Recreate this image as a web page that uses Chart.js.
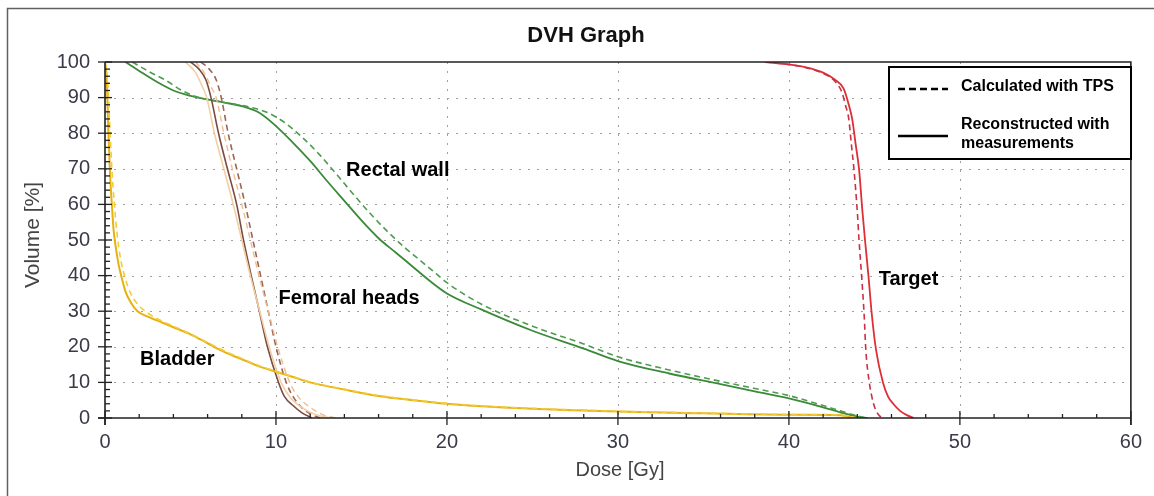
<!DOCTYPE html>
<html><head><meta charset="utf-8">
<script src="https://cdn.jsdelivr.net/npm/chart.js@4.4.0/dist/chart.umd.min.js"></script>
<style>html,body{margin:0;padding:0;background:#fff;}#wrap{width:1154px;height:496px;position:relative}</style>
</head><body><div id="wrap"><canvas id="c" width="1154" height="496"></canvas></div>
<script>
// ---- data ----
const xTickValues=[0,10,20,30,40,50,60];
const yTickValues=[0,10,20,30,40,50,60,70,80,90,100];

const bladderSolidDose=[0,0.1,0.2,0.3,0.4,0.5,0.6,0.8,1.0,1.2,1.5,1.9,2.5,3,4,5,6,7,8,9,10,11,12,14,16,18,20,22,25,28,30,35,40,43,43.5,44];
const bladderSolidVol =[100,95,80,68,60,53,49,43,39,35.5,32.5,30,28.5,27.5,25.5,23.5,21,18.5,16.5,14.5,13,11.5,10,8,6.2,5,4,3.3,2.6,2.1,1.8,1.3,0.9,0.8,0.3,0];
const bladderCalcDose=[0,0.15,0.3,0.4,0.55,0.7,0.9,1.2,1.5,2,2.5,3,4,5,6,7,8,9,10,11,12,14,16,18,20,22,25,28,30,35,40,43,43.5,44];
const bladderCalcVol =[100,95,80,70,60,52,45,39,35,31.5,29.5,28,25.8,23.6,21.2,18.8,16.7,14.7,13.1,11.6,10.1,8.1,6.3,5.1,4.1,3.4,2.7,2.2,1.9,1.4,1.0,0.9,0.4,0];

const rectalSolidDose=[1.2,2,3,4,5,6,7,8,9,10,11,12,13,14,15,16,17,18,19,20,22,25,28,30,33,36,38,40,42,43,44,44.6];
const rectalSolidVol =[100,97.5,94.5,92,90.5,89.5,88.6,87.6,85.8,82,77.3,72.2,66.5,61,55.5,50.5,46.5,42.5,38.5,35,30.5,24.5,19.5,16,12.5,9.5,7.5,5.5,3,1.6,0.4,0];
const rectalCalcDose=[1.6,2.5,3.5,4.5,5.5,6.5,7.5,8.5,9.5,10.5,11.5,12.5,13.5,14.5,15.5,16.5,17.5,18.5,19.5,20,22,25,28,30,33,36,38,40,42,43,44,44.5];
const rectalCalcVol =[100,97.5,95,92,90,89,88.2,87.3,85.8,83,79,74.2,68.7,63,57.5,52.5,48,44,40,38,32,25.8,20.8,17.2,13.5,10.3,8.3,6.3,3.5,2,0.6,0];

const femBrownSolidDose=[5.0,5.5,5.9,6.2,6.64,7.16,7.7,8.1,8.55,9.03,9.5,10.15,10.5,11.0,11.5,12.1];
const femBrownSolidVol =[100,98,95,90,80,70,60,50,40,30,20,10,6,3.5,1.5,0];
const femBrownCalcDose=[5.6,6.1,6.5,6.8,7.2,7.7,8.2,8.65,9.1,9.55,10.0,10.6,11.0,11.5,12.0,12.6];
const femBrownCalcVol =[100,98,95,90,80,70,60,50,40,30,20,10,6,3,1.2,0];
const femPeachSolidDose=[4.7,5.3,5.7,5.95,6.4,6.95,7.5,8.0,8.5,9.05,9.6,10.3,10.8,11.5,12.3,13.2];
const femPeachSolidVol =[100,97,93,90,80,70,60,50,40,30,20,10,6,3,1,0];
const femPeachCalcDose=[5.3,5.8,6.2,6.5,6.95,7.45,8.0,8.5,9.0,9.55,10.1,10.8,11.3,12.0,12.7,13.5];
const femPeachCalcVol =[100,97,93,90,80,70,60,50,40,30,20,10,6,3,1,0];

const targetSolidDose=[38.6,40,41,42,42.7,43.2,43.5,43.7,43.9,44.1,44.3,44.45,44.65,44.85,45.1,45.5,45.8,46.1,46.5,46.9,47.3];
const targetSolidVol =[100,99.3,98.5,97,95,92.5,88,84,77,70,58,50,40,29,19,10,6,4,2,0.8,0];
const targetCalcDose=[38.6,40,41,42,42.7,43.1,43.3,43.5,43.65,43.8,44.0,44.1,44.25,44.4,44.5,44.7,44.85,44.95,45.1,45.3,45.5];
const targetCalcVol =[100,99.3,98.4,96.8,94.5,91.5,88,84,77,70,58,50,40,29,19,10,6,4,2,0.6,0];

const organLabels=[
  {text:'Rectal wall',x:14.1,y:69.6},
  {text:'Femoral heads',x:10.15,y:33.5},
  {text:'Bladder',x:2.05,y:16.3},
  {text:'Target',x:45.25,y:39}
];
const legendItems=['Calculated with TPS','Reconstructed with','measurements'];

// ---- build ----
function pts(xs,ys){return xs.map((x,i)=>({x:x,y:ys[i]}));}
function ds(xs,ys,color,dashed,w){
  return {data:pts(xs,ys),borderColor:color,borderWidth:w||1.6,borderDash:dashed?[6,4]:[],
    showLine:true,pointRadius:0,tension:0,cubicInterpolationMode:'monotone',fill:false};
}
const datasets=[
  ds(bladderCalcDose,bladderCalcVol,'#f2cc3a',true,1.6),
  ds(bladderSolidDose,bladderSolidVol,'#e6b212',false,2),
  ds(femPeachSolidDose,femPeachSolidVol,'#f3cfa4',false,1.6),
  ds(femPeachCalcDose,femPeachCalcVol,'#eebd8e',true,1.4),
  ds(femBrownCalcDose,femBrownCalcVol,'#9b6456',true,1.6),
  ds(femBrownSolidDose,femBrownSolidVol,'#7a4b44',false,1.6),
  ds(rectalCalcDose,rectalCalcVol,'#4f9b4f',true,1.6),
  ds(rectalSolidDose,rectalSolidVol,'#3a8a3a',false,1.8),
  ds(targetCalcDose,targetCalcVol,'#cc3044',true,1.6),
  ds(targetSolidDose,targetSolidVol,'#dd2f36',false,1.8)
];

const W=1154,H=496;
const sans='"Liberation Sans",Arial,sans-serif';

const deco={id:'deco',
  beforeDraw(ch){const c=ch.ctx;c.save();c.fillStyle='#fff';c.fillRect(0,0,W,H);
    c.strokeStyle='#606060';c.lineWidth=1.5;c.beginPath();c.moveTo(7.5,H);c.lineTo(7.5,8.5);c.lineTo(W,8.5);c.stroke();
    c.restore();},
  beforeDatasetsDraw(ch){const c=ch.ctx,xs=ch.scales.x,ys=ch.scales.y,a=ch.chartArea;
    c.save();c.strokeStyle='#a0a0a0';c.lineWidth=1;c.setLineDash([2,7]);
    xTickValues.forEach(v=>{if(v<=0||v>=60)return;const p=Math.round(xs.getPixelForValue(v))+0.5;c.beginPath();c.moveTo(p,a.top);c.lineTo(p,a.bottom);c.stroke();});
    yTickValues.forEach(v=>{if(v<=0||v>=100)return;const p=Math.round(ys.getPixelForValue(v))+0.5;c.beginPath();c.moveTo(a.left,p);c.lineTo(a.right,p);c.stroke();});
    c.restore();},
  afterDatasetsDraw(ch){const c=ch.ctx,xs=ch.scales.x,ys=ch.scales.y,a=ch.chartArea;
    c.save();c.setLineDash([]);c.strokeStyle='#222';c.lineWidth=1.6;
    c.beginPath();c.moveTo(a.left,a.top);c.lineTo(a.right,a.top);c.lineTo(a.right,a.bottom+7);c.stroke();
    c.beginPath();c.moveTo(a.left,a.top);c.lineTo(a.left,a.bottom+7);c.moveTo(a.left-7,a.bottom);c.lineTo(a.right,a.bottom);c.stroke();
    c.lineWidth=1.3;
    for(let v=0;v<=60;v+=2){const p=xs.getPixelForValue(v);c.beginPath();
      if(v%10===0){c.moveTo(p,a.bottom-7);c.lineTo(p,a.bottom+7);}else{c.moveTo(p,a.bottom);c.lineTo(p,a.bottom-4);}c.stroke();}
    for(let v=0;v<=100;v+=2){const p=ys.getPixelForValue(v);c.beginPath();
      if(v%10===0){c.moveTo(a.left-7,p);c.lineTo(a.left+7,p);}else{c.moveTo(a.left,p);c.lineTo(a.left+5,p);}c.stroke();}
    // title
    c.fillStyle='#111';c.font='bold 22px '+sans;c.textAlign='center';c.textBaseline='middle';
    c.fillText('DVH Graph',586,36);
    // axis titles
    c.fillStyle='#444';c.font='20px '+sans;c.fillText('Dose [Gy]',620,470);
    c.font='21px '+sans;
    c.save();c.translate(33,235);c.rotate(-Math.PI/2);c.fillText('Volume [%]',0,0);c.restore();
    // organ labels
    c.fillStyle='#000';c.font='bold 20px '+sans;c.textAlign='left';
    organLabels.forEach(l=>{c.fillText(l.text,xs.getPixelForValue(l.x),ys.getPixelForValue(l.y));});
    // legend
    c.fillStyle='#fff';c.fillRect(889,67,242,92);
    c.strokeStyle='#000';c.lineWidth=2;c.strokeRect(889,67,242,92);
    c.lineWidth=2.5;c.setLineDash([7,4]);c.beginPath();c.moveTo(898,89);c.lineTo(948,89);c.stroke();
    c.setLineDash([]);c.beginPath();c.moveTo(898,136);c.lineTo(948,136);c.stroke();
    c.fillStyle='#000';c.font='bold 16px '+sans;
    c.fillText(legendItems[0],961,87);c.fillText(legendItems[1],961,125);c.fillText(legendItems[2],961,144);
    c.restore();}
};

new Chart(document.getElementById('c'),{
  type:'scatter',
  data:{datasets:datasets},
  options:{responsive:false,animation:false,devicePixelRatio:1,
    layout:{padding:{top:62,right:19,left:0,bottom:0}},
    plugins:{legend:{display:false},title:{display:false},tooltip:{enabled:false}},
    scales:{
      x:{type:'linear',min:0,max:60,
        afterBuildTicks(s){s.ticks=xTickValues.map(v=>({value:v}));},
        afterFit(s){s.height=78;},
        grid:{display:false,drawTicks:false},border:{display:false},
        ticks:{padding:12,color:'#3a3a48',font:{family:sans,size:20},maxRotation:0}},
      y:{type:'linear',min:0,max:100,
        afterBuildTicks(s){s.ticks=yTickValues.map(v=>({value:v}));},
        afterFit(s){s.width=105;},
        grid:{display:false,drawTicks:false},border:{display:false},
        ticks:{padding:15,color:'#3a3a48',font:{family:sans,size:20}}}
    }
  },
  plugins:[deco]
});
</script></body></html>
